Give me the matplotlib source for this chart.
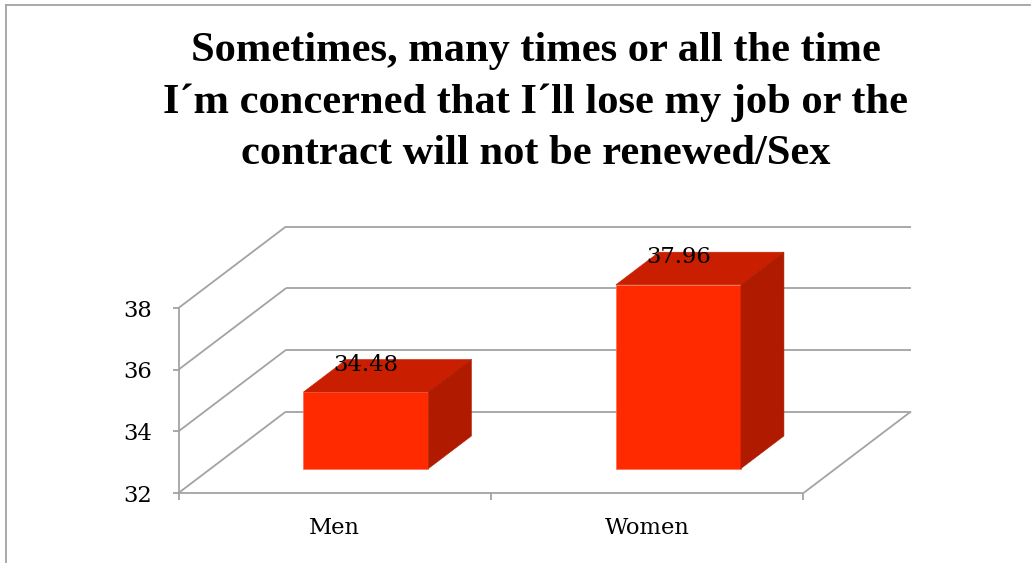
import matplotlib
matplotlib.use('Agg')
import matplotlib.pyplot as plt
from matplotlib.lines import Line2D
from matplotlib.patches import Polygon

categories = ['Men', 'Women']
values = [34.48, 37.96]
y_ticks = [32, 34, 36, 38]
title = 'Sometimes, many times or all the time\nI\u00b4m concerned that I\u00b4ll lose my job or the\ncontract will not be renewed/Sex'

W, H = 1036.0, 563.0
grid_col = '#a3a3a3'
front_col = '#ff2a00'
top_col = '#c91f00'
side_col = '#b01b00'
label_font = 'DejaVu Serif'

# oblique depth of the box, in data units
depth_x = 0.344
depth_y = 2.643
bar_w = 0.40
bar_start_x = 0.29
bar_start_y = 0.30
bar_depth = 0.40

fig = plt.figure(figsize=(W / 100, H / 100), dpi=100)
ax = fig.add_axes([178.5 / W, (H - 493) / H, 625 / W, 185 / H])
ax.set_xlim(0, len(categories))
ax.set_ylim(y_ticks[0], y_ticks[-1])
for s in ax.spines.values():
    s.set_visible(False)
ax.patch.set_visible(False)


def line(xs, ys, **kw):
    ax.plot(xs, ys, color=grid_col, lw=1.3, clip_on=False, solid_capstyle='butt', zorder=1, **kw)


# back wall lines and left wall diagonals
xmax = len(categories)
for v in y_ticks:
    line([depth_x, xmax + depth_x], [v + depth_y, v + depth_y])
    line([0, depth_x], [v, v + depth_y])
line([0, 0], [y_ticks[0], y_ticks[-1]])
line([0, xmax], [y_ticks[0], y_ticks[0]])
line([xmax, xmax + depth_x], [y_ticks[0], y_ticks[0] + depth_y])

base = y_ticks[0]
for i, (name, val) in enumerate(zip(categories, values)):
    x0 = i + 0.5 - bar_w / 2 + bar_start_x * depth_x
    x1 = x0 + bar_w
    y0 = base + bar_start_y * depth_y
    y1 = val + bar_start_y * depth_y
    dx = bar_depth * depth_x
    dy = bar_depth * depth_y
    ax.add_patch(Polygon([(x0, y0), (x1, y0), (x1, y1), (x0, y1)], closed=True,
                         fc=front_col, ec='#ff6a50', lw=0.5, clip_on=False, zorder=3))
    ax.add_patch(Polygon([(x0, y1), (x1, y1), (x1 + dx, y1 + dy), (x0 + dx, y1 + dy)], closed=True,
                         fc=top_col, ec=top_col, lw=0.4, clip_on=False, zorder=3))
    ax.add_patch(Polygon([(x1, y0), (x1 + dx, y0 + dy), (x1 + dx, y1 + dy), (x1, y1)], closed=True,
                         fc=side_col, ec=side_col, lw=0.4, clip_on=False, zorder=3))
    ax.text((x0 + x1) / 2, y1 + 0.89, '%.2f' % val, ha='center', va='center',
            family=label_font, fontsize=16.3, color='black', zorder=5, clip_on=False)

ax.set_yticks(y_ticks)
ax.set_xticks(range(xmax + 1))
ax.set_xticklabels([])
ax.set_xticks([i + 0.5 for i in range(xmax)], labels=categories, minor=True)
ax.tick_params(axis='y', length=4.5, width=1.3, color=grid_col, pad=14.5, labelsize=16.3)
ax.tick_params(axis='x', which='major', length=5, width=1.3, color=grid_col)
ax.tick_params(axis='x', which='minor', length=0, pad=17, labelsize=16.3)
for t in ax.get_yticklabels() + ax.get_xticklabels(minor=True):
    t.set_family(label_font)

fig.text(535.5 / W, 1 - 102.5 / H, title, ha='center', va='center', family='Liberation Serif',
         fontweight='bold', fontsize=30.6, linespacing=1.47, color='black')

# chart frame, cut by the picture edge
fig.add_artist(Line2D([5.5 / W, 5.5 / W], [0, 1 - 4.5 / H], color=grid_col, lw=1.3))
fig.add_artist(Line2D([5.5 / W, 1030 / W], [1 - 4.5 / H, 1 - 4.5 / H], color=grid_col, lw=1.3))

fig.savefig('out.png', dpi=100)
